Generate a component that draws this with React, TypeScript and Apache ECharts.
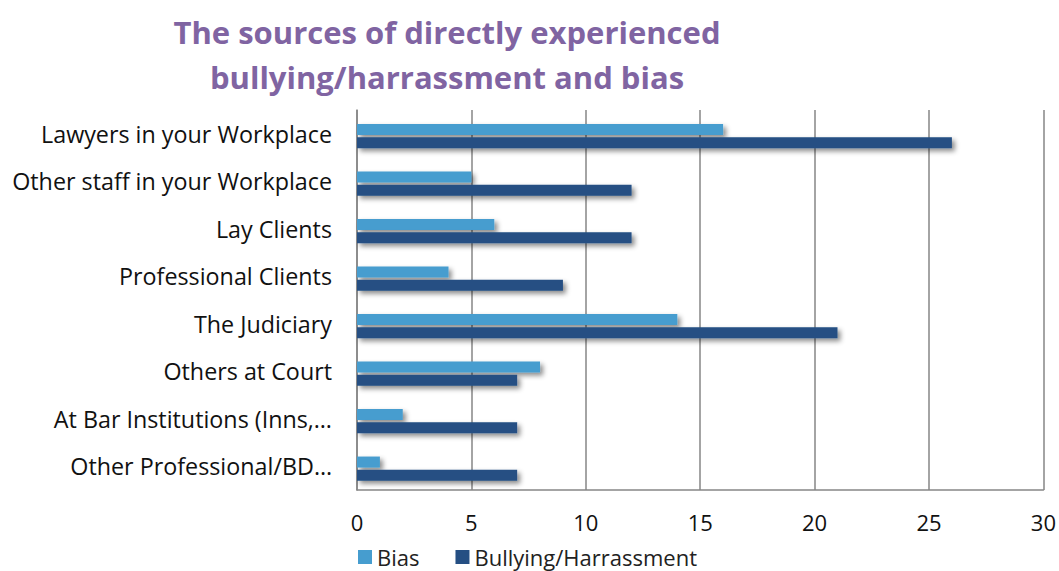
import React, { useEffect, useRef } from "react";
import * as echarts from "echarts";

const categories = [
  "Lawyers in your Workplace",
  "Other staff in your Workplace",
  "Lay Clients",
  "Professional Clients",
  "The Judiciary",
  "Others at Court",
  "At Bar Institutions (Inns,…",
  "Other Professional/BD…",
];
const biasValues = [16, 5, 6, 4, 14, 8, 2, 1];
const bullyingValues = [26, 12, 12, 9, 21, 7, 7, 7];
const titleLines = ["The sources of directly experienced", "bullying/harrassment and bias"];
const seriesNames = ["Bias", "Bullying/Harrassment"];

const FONT = "'Open Sans', 'Noto Sans', sans-serif";

export default function App() {
  const ref = useRef<HTMLDivElement>(null);
  useEffect(() => {
    document.body.style.margin = "0";
    const chart = echarts.init(ref.current!, null, { renderer: "svg" });
    const shadow = {
      shadowColor: "rgba(0,0,0,0.45)",
      shadowBlur: 5,
      shadowOffsetX: 3,
      shadowOffsetY: 3,
    };
    chart.setOption({
      animation: false,
      graphic: [
        {
          type: "text",
          x: 447,
          y: 32,
          style: {
            text: titleLines[0],
            font: `bold 31px ${FONT}`,
            fill: "#8064A2",
            textAlign: "center",
            textVerticalAlign: "middle",
          },
        },
        {
          type: "text",
          x: 447,
          y: 77,
          style: {
            text: titleLines[1],
            font: `bold 31px ${FONT}`,
            fill: "#8064A2",
            textAlign: "center",
            textVerticalAlign: "middle",
          },
        },
      ],
      legend: {
        left: 358,
        top: 545,
        icon: "rect",
        itemWidth: 14,
        itemHeight: 14,
        itemGap: 36,
        padding: 0,
        itemStyle: { shadowBlur: 0, shadowOffsetX: 0, shadowOffsetY: 0 },
        textStyle: { fontSize: 22, color: "#222", fontFamily: FONT, lineHeight: 24 },
        data: seriesNames,
      },
      grid: { left: 357, right: 15, top: 110, bottom: 81 },
      xAxis: {
        type: "value",
        min: 0,
        max: 30,
        interval: 5,
        axisLine: { show: true, lineStyle: { color: "#868686", width: 1.5 } },
        axisTick: { show: false },
        splitLine: { show: true, lineStyle: { color: "#868686", width: 1.5 } },
        axisLabel: { fontSize: 22, color: "#111", fontFamily: FONT, margin: 21 },
      },
      yAxis: {
        type: "category",
        inverse: true,
        data: categories,
        axisLine: { show: true, lineStyle: { color: "#868686", width: 1.5 } },
        axisTick: { show: false },
        axisLabel: { fontSize: 23.3, color: "#111", fontFamily: FONT, margin: 25 },
      },
      series: [
        {
          name: "_pad",
          type: "bar",
          data: [],
          barWidth: 4,
          barGap: "20%",
          silent: true,
        },
        {
          name: seriesNames[0],
          type: "bar",
          data: biasValues,
          barWidth: 11,
          barGap: "20%",
          itemStyle: { color: "#469DCF", ...shadow },
        },
        {
          name: seriesNames[1],
          type: "bar",
          data: bullyingValues,
          barWidth: 11,
          itemStyle: { color: "#254F83", ...shadow },
        },
      ],
    });
    return () => chart.dispose();
  }, []);
  return <div ref={ref} style={{ width: 1059, height: 571 }} />;
}
